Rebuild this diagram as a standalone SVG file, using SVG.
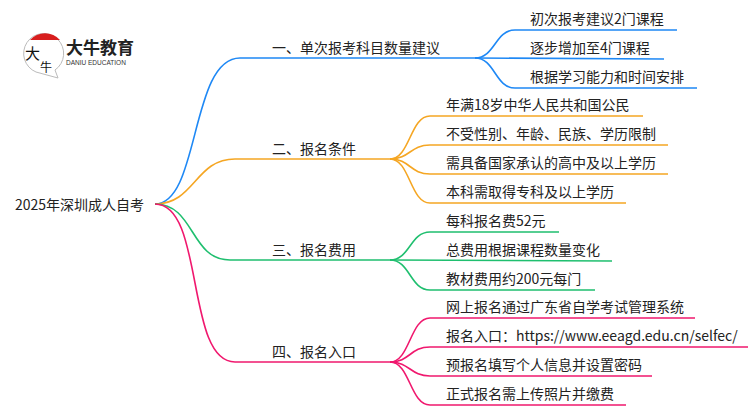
<svg xmlns="http://www.w3.org/2000/svg" width="750" height="410" viewBox="0 0 750 410">
<style>
text{font-family:"Noto Sans CJK SC","Liberation Sans",sans-serif;fill:#222;}
.r{font-size:14px}.b{font-size:14px}.l{font-size:14px}
path{fill:none;stroke-width:1.6}
.c1{stroke:#1e88f5}.c2{stroke:#f5a623}.c3{stroke:#1fbf6f}.c4{stroke:#f0186e}
</style>
<rect width="750" height="410" fill="#fff"/>
<g id="logo">
<path d="M36 72 A20 20 0 1 1 55 70 L58 78 Z" style="fill:#fff;stroke:#bbb;stroke-width:1"/>
<path d="M30 40 A20 20 0 0 1 60 40 Z" style="fill:#d81e1e;stroke:none"/>
<text x="25" y="59" style="font-size:15px;fill:#111">大</text>
<text x="40" y="72" style="font-size:12px;fill:#111">牛</text>
<text x="66" y="54" style="font-size:17px;font-weight:bold;fill:#222">大牛教育</text>
<text x="66" y="65" style="font-size:6.5px;fill:#333;font-family:'Liberation Sans',sans-serif">DANIU EDUCATION</text>
</g>
<g id="connectors">
<path class="c1" d="M155 204 C200 204,190 58,240 58 L475 58"/>
<path class="c1" d="M475 58 C495 58,495 30,515 30 L677 30"/>
<path class="c1" d="M475 58 L664 59"/>
<path class="c1" d="M475 58 C495 58,495 88,515 88 L697 88"/>
<path class="c2" d="M155 204 C195 204,195 159,235 159 L390 159"/>
<path class="c2" d="M390 159 C410 159,410 116,430 116 L643 116"/>
<path class="c2" d="M390 159 C410 159,410 145,430 145 L668 145"/>
<path class="c2" d="M390 159 C410 159,410 174,430 174 L668 174"/>
<path class="c2" d="M390 159 C410 159,410 203,430 203 L626 203"/>
<path class="c3" d="M155 204 C195 204,190 260,230 260 L390 260"/>
<path class="c3" d="M390 260 C410 260,410 232,430 232 L559 232"/>
<path class="c3" d="M390 260 L612 261"/>
<path class="c3" d="M390 260 C410 260,410 290,430 290 L595 290"/>
<path class="c4" d="M155 204 C205 204,185 362,235 362 L390 362"/>
<path class="c4" d="M390 362 C410 362,410 318,430 318 L695 318"/>
<path class="c4" d="M390 362 C410 362,410 347,430 347 L748 347"/>
<path class="c4" d="M390 362 C410 362,410 376,430 376 L652 376"/>
<path class="c4" d="M390 362 C410 362,410 405,430 405 L626 405"/>
</g>
<g id="root"><text class="r" x="15" y="210">2025年深圳成人自考</text></g>
<g id="b1"><text class="b" x="272" y="53">一、单次报考科目数量建议</text>
<text class="l" x="530" y="24">初次报考建议2门课程</text>
<text class="l" x="530" y="53">逐步增加至4门课程</text>
<text class="l" x="530" y="82">根据学习能力和时间安排</text></g>
<g id="b2"><text class="b" x="272" y="154">二、报名条件</text>
<text class="l" x="446" y="110">年满18岁中华人民共和国公民</text>
<text class="l" x="446" y="139">不受性别、年龄、民族、学历限制</text>
<text class="l" x="446" y="168">需具备国家承认的高中及以上学历</text>
<text class="l" x="446" y="197">本科需取得专科及以上学历</text></g>
<g id="b3"><text class="b" x="272" y="255">三、报名费用</text>
<text class="l" x="446" y="226">每科报名费52元</text>
<text class="l" x="446" y="255">总费用根据课程数量变化</text>
<text class="l" x="446" y="284">教材费用约200元每门</text></g>
<g id="b4"><text class="b" x="272" y="357">四、报名入口</text>
<text class="l" x="446" y="312">网上报名通过广东省自学考试管理系统</text>
<text class="l" x="446" y="341">报名入口：https://www.eeagd.edu.cn/selfec/</text>
<text class="l" x="446" y="370">预报名填写个人信息并设置密码</text>
<text class="l" x="446" y="399">正式报名需上传照片并缴费</text></g>
</svg>
